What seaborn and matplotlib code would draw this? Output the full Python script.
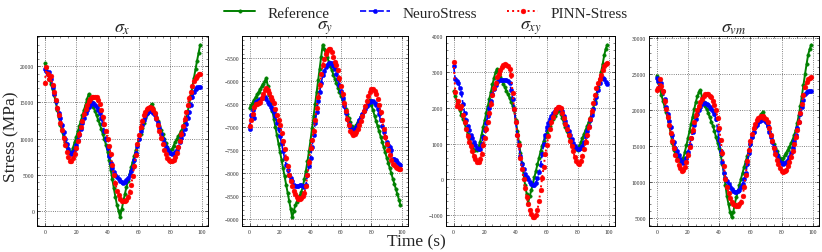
import numpy as np
import pandas as pd
import matplotlib
matplotlib.use("Agg")
import matplotlib.pyplot as plt
from matplotlib.ticker import AutoMinorLocator, MultipleLocator
import seaborn as sns

time_s = list(range(100))

# ---------------- sigma_x ----------------
sx_ref = [20400, 19700, 19000, 18300, 17500, 16800, 16000, 15000, 14000, 13000,
          11900, 11000, 10200, 9500, 8900, 8400, 8100, 8000, 8750, 9500,
          10200, 11000, 11700, 12500, 13200, 14000, 14700, 15500, 16200, 15600,
          15000, 14400, 13800, 13200, 12600, 12000, 11300, 10600, 9900, 9100,
          8200, 7000, 5700, 4400, 3100, 1900, 800, 0, -900, 200,
          1300, 2300, 3300, 4200, 5100, 6000, 6800, 7600, 8400, 9200,
          10000, 10700, 11400, 12100, 12800, 13400, 14000, 14400, 14800, 14200,
          13600, 13000, 12400, 11800, 11200, 10600, 10000, 9400, 8800, 8400,
          8100, 8500, 9000, 9500, 9900, 10300, 10700, 11100, 11600, 12200,
          12800, 13700, 14800, 16000, 17200, 18400, 19600, 20800, 21900, 23000]
sx_neuro = [19600, 19400, 19000, 19200, 18300, 17200, 16200, 15200, 14300, 13500,
            12800, 11900, 10900, 10000, 9200, 8500, 8000, 7900, 8100, 8500,
            9100, 9800, 10500, 11300, 12100, 12800, 13500, 14000, 14400, 14700,
            14900, 14900, 14700, 14400, 14000, 13500, 12800, 12000, 11000, 9900,
            8700, 7600, 6600, 5900, 5400, 5000, 4700, 4400, 4150, 4000,
            3900, 4000, 4250, 4600, 5000, 5500, 6100, 7000, 8000, 9000,
            10000, 11000, 11900, 12600, 13100, 13500, 13700, 13800, 13800, 13600,
            13200, 12700, 12100, 11400, 10700, 10000, 9400, 8900, 8500, 8200,
            8000, 7900, 7900, 8100, 8400, 8900, 9500, 10100, 10700, 11300,
            12000, 12800, 13700, 14700, 15700, 16500, 16900, 17100, 17200, 17100]
sx_pinn = [17700, 19900, 18900, 18300, 18700, 17400, 16500, 15400, 14200, 13200,
           12200, 11200, 10100, 9100, 8200, 7400, 6900, 6900, 7300, 7900,
           8700, 9600, 10600, 11600, 12500, 13400, 14100, 14700, 15200, 15500,
           15700, 15800, 15800, 15700, 15400, 14800, 14000, 13000, 12000, 11000,
           10000, 9000, 7800, 6300, 5000, 3800, 2800, 2200, 1700, 1400,
           1300, 1300, 1500, 1900, 2600, 3600, 4800, 6200, 7700, 9200,
           10500, 11600, 12500, 13200, 13700, 14100, 14300, 14400, 14300, 14000,
           13500, 12800, 11900, 11000, 10100, 9200, 8400, 7800, 7300, 7000,
           6900, 6850, 7000, 7400, 8000, 8800, 9700, 10700, 11700, 12700,
           13700, 14700, 15600, 16500, 17300, 17900, 18400, 18700, 18900, 19000]

# ---------------- sigma_y ----------------
sy_ref = [-6580, -6520, -6460, -6400, -6345, -6285, -6225, -6165, -6110, -6050,
          -5990, -5930, -6108, -6286, -6465, -6643, -6821, -6999, -7177, -7356,
          -7534, -7712, -7890, -8068, -8247, -8425, -8603, -8781, -8960, -8820,
          -8700, -8620, -8550, -8480, -8400, -8280, -8120, -7940, -7740, -7520,
          -7280, -7020, -6760, -6500, -6240, -5980, -5720, -5460, -5200, -5295,
          -5390, -5480, -5575, -5670, -5760, -5855, -5950, -6040, -6135, -6230,
          -6320, -6415, -6510, -6605, -6700, -6790, -6885, -6980, -7070, -7010,
          -6950, -6890, -6830, -6770, -6710, -6645, -6585, -6525, -6460, -6400,
          -6515, -6630, -6745, -6860, -6975, -7090, -7200, -7315, -7430, -7545,
          -7660, -7775, -7890, -8000, -8120, -8230, -8345, -8460, -8575, -8690]
sy_neuro = [-7030, -6730, -6620, -6800, -6450, -6420, -6400, -6390, -6370, -6350,
            -6330, -6380, -6440, -6500, -6550, -6600, -6660, -6750, -6900, -7030,
            -7180, -7350, -7520, -7670, -7810, -7930, -8030, -8110, -8170, -8260,
            -8280, -8280, -8270, -8260, -8260, -8270, -8290, -8250, -8030, -7850,
            -7670, -7420, -7160, -6900, -6660, -6430, -6230, -6040, -5870, -5770,
            -5690, -5640, -5600, -5600, -5610, -5660, -5740, -5840, -5950, -6070,
            -6200, -6370, -6530, -6680, -6820, -6920, -7000, -7050, -7070, -7040,
            -7000, -6930, -6850, -6780, -6710, -6650, -6600, -6530, -6470, -6440,
            -6420, -6430, -6460, -6520, -6600, -6720, -6850, -6980, -7100, -7220,
            -7320, -7380, -7430, -7500, -7680, -7700, -7720, -7760, -7790, -7830]
sy_pinn = [-6980, -6840, -6700, -6550, -6500, -6490, -6470, -6440, -6370, -6280,
           -6190, -6140, -6190, -6260, -6335, -6400, -6480, -6600, -6730, -6840,
           -6950, -7120, -7300, -7480, -7670, -7850, -8030, -8160, -8280, -8380,
           -8460, -8510, -8550, -8550, -8530, -8500, -8430, -8280, -8030, -7750,
           -7450, -7270, -7090, -6840, -6590, -6330, -6080, -5850, -5650, -5510,
           -5400, -5330, -5290, -5290, -5360, -5460, -5580, -5650, -5760, -5920,
           -6100, -6280, -6460, -6640, -6820, -6950, -7070, -7130, -7160, -7140,
           -7100, -7040, -6960, -6860, -6750, -6640, -6530, -6420, -6310, -6230,
           -6170, -6155, -6200, -6280, -6390, -6520, -6670, -6850, -7030, -7200,
           -7360, -7490, -7610, -7710, -7790, -7830, -7860, -7880, -7900, -7900]

# ---------------- sigma_xy ----------------
sxy_ref = [2460, 2330, 2200, 2070, 1930, 1800, 1680, 1560, 1420, 1280,
           1140, 1000, 870, 830, 820, 830, 900, 1050, 1250, 1450,
           1650, 1850, 2050, 2250, 2450, 2650, 2830, 3000, 3080, 2960,
           2870, 2770, 2670, 2570, 2470, 2370, 2270, 2170, 2050, 1930,
           1650, 1350, 1050, 750, 450, 150, -150, -400, -650, -470,
           -300, -120, 60, 240, 420, 600, 780, 930, 1060, 1190,
           1300, 1410, 1500, 1590, 1680, 1770, 1850, 1900, 1950, 1830,
           1700, 1580, 1460, 1340, 1220, 1100, 1000, 930, 880, 850,
           830, 930, 1040, 1160, 1270, 1380, 1490, 1600, 1720, 1850,
           2000, 2180, 2370, 2570, 2780, 3000, 3220, 3460, 3650, 3760]
sxy_neuro = [3150, 2800, 2750, 2700, 2550, 2400, 2100, 1850, 1650, 1500,
             1380, 1250, 1150, 1050, 950, 880, 840, 860, 980, 1180,
             1370, 1580, 1780, 2000, 2200, 2380, 2530, 2640, 2720, 2760,
             2780, 2780, 2780, 2780, 2770, 2750, 2700, 2500, 2250, 1960,
             1600, 1250, 950, 650, 430, 280, 150, 60, 0, -80,
             -140, -170, -160, -90, 30, 200, 400, 700, 1000, 1250,
             1450, 1580, 1680, 1760, 1840, 1900, 1960, 2000, 2000, 1970,
             1900, 1760, 1620, 1480, 1340, 1230, 1130, 1020, 940, 880,
             860, 850, 870, 930, 1050, 1200, 1360, 1500, 1650, 1800,
             1950, 2130, 2300, 2500, 2700, 2850, 2830, 2800, 2720, 2660]
sxy_pinn = [3280, 2450, 2050, 2200, 2000, 2050, 1800, 1600, 1400, 1200,
            1050, 920, 780, 660, 560, 490, 480, 560, 720, 950,
            1150, 1400, 1600, 1850, 2100, 2350, 2550, 2700, 2850, 2950,
            3050, 3130, 3190, 3210, 3200, 3170, 3080, 2900, 2400, 1950,
            1600, 1250, 950, 600, 300, 0, -250, -480, -680, -860,
            -980, -1060, -1060, -1000, -850, -600, -300, 50, 350, 700,
            950, 1200, 1400, 1600, 1750, 1880, 1960, 2020, 2030, 1980,
            1840, 1700, 1550, 1400, 1230, 1080, 930, 780, 620, 520,
            450, 430, 500, 650, 850, 1050, 1250, 1450, 1680, 1900,
            2130, 2350, 2550, 2700, 2800, 2920, 3050, 3150, 3220, 3260]

# ---------------- sigma_vm ----------------
svm_ref = [24800, 23900, 23000, 22100, 21300, 20500, 19700, 18900, 17800, 16700,
           15500, 14500, 13900, 13500, 13200, 13000, 12900, 13300, 14200, 15100,
           16100, 17100, 18100, 19100, 20100, 21100, 21900, 22500, 22800, 21800,
           21100, 20600, 20100, 19600, 19000, 18400, 17800, 17100, 16200, 15500,
           14700, 13700, 12500, 11300, 9600, 8000, 6900, 5800, 5100, 5800,
           7000, 7900, 8700, 9600, 10500, 11300, 12100, 12900, 13600, 14400,
           15300, 16200, 17000, 17600, 18100, 18600, 19000, 19400, 19800, 19100,
           18400, 17800, 17100, 16500, 15900, 15300, 14800, 14300, 13800, 13300,
           12900, 13300, 13700, 14100, 14500, 14900, 15400, 15900, 16500, 17200,
           18200, 19300, 20600, 22000, 23500, 25000, 26400, 27700, 28500, 29100]
svm_neuro = [24500, 24000, 23500, 23800, 22700, 21500, 20500, 19400, 18500, 17600,
             16600, 15600, 14800, 14300, 13700, 13200, 12800, 12700, 12900, 13400,
             14200, 15100, 16100, 17000, 17900, 18700, 19400, 20000, 20500, 20900,
             21000, 21000, 20900, 20700, 20500, 20200, 19900, 19400, 18700, 17300,
             15800, 14300, 12800, 11300, 10600, 10100, 9700, 9300, 9000, 8800,
             8650, 8650, 8750, 8950, 9250, 9800, 10400, 11200, 12500, 14000,
             15300, 16300, 17000, 17600, 18000, 18300, 18500, 18650, 18700, 18600,
             18300, 17800, 17000, 16300, 15600, 14900, 14300, 13700, 13200, 12800,
             12600, 12550, 12600, 12800, 13100, 13500, 14100, 14800, 15700, 16600,
             17500, 18400, 19400, 20500, 21400, 22200, 22500, 22700, 22700, 22600]
svm_pinn = [22850, 23050, 24300, 23300, 22600, 21300, 20200, 19100, 17900, 16800,
            15700, 14700, 13800, 13100, 12400, 11900, 11600, 11700, 12100, 12800,
            13800, 14900, 16100, 17200, 18300, 19300, 20000, 20600, 21100, 21600,
            21900, 22200, 22250, 22200, 22000, 21800, 21300, 20700, 20000, 18900,
            17500, 15800, 14100, 12200, 10500, 9300, 8500, 7800, 7300, 7000,
            6750, 6700, 6700, 6900, 7300, 8100, 9300, 11000, 12900, 14500,
            15700, 16700, 17500, 18100, 18600, 18900, 19100, 19150, 19150, 18950,
            18800, 18300, 17500, 16600, 15700, 14800, 13900, 13100, 12500, 12000,
            11600, 11450, 11500, 11700, 12200, 12800, 13500, 14300, 15300, 16300,
            17300, 18400, 19600, 20900, 22100, 23200, 23900, 24300, 24500, 24600]

panel_titles = [r"$\sigma_x$", r"$\sigma_y$", r"$\sigma_{xy}$", r"$\sigma_{vm}$"]
panel_data = [
    (sx_ref, sx_neuro, sx_pinn),
    (sy_ref, sy_neuro, sy_pinn),
    (sxy_ref, sxy_neuro, sxy_pinn),
    (svm_ref, svm_neuro, svm_pinn),
]
series_names = ["Reference", "NeuroStress", "PINN-Stress"]
x_ticks = [0, 20, 40, 60, 80, 100]
y_tick_steps = [5000, 500, 1000, 5000]

sns.set_style("ticks")
plt.rcParams["font.family"] = ["Liberation Serif", "DejaVu Serif"]
plt.rcParams["mathtext.fontset"] = "stix"
plt.rcParams["axes.unicode_minus"] = True

styles = [
    dict(color="green", linestyle="-", linewidth=1.4, marker="o", markersize=2.5),
    dict(color="blue", linestyle="--", linewidth=1.2, marker="o", markersize=3.1),
    dict(color="red", linestyle=":", linewidth=1.4, marker="o", markersize=3.5),
]

fig = plt.figure(figsize=(8.22, 2.53), dpi=100)
rects = [
    [37 / 822, 26 / 253, 171 / 822, 190 / 253],
    [242 / 822, 26 / 253, 166 / 822, 190 / 253],
    [446 / 822, 26 / 253, 169 / 822, 190 / 253],
    [649 / 822, 26 / 253, 170 / 822, 190 / 253],
]

handles = None
for i, (rect, title, series) in enumerate(zip(rects, panel_titles, panel_data)):
    ax = fig.add_axes(rect)
    for name, vals, st in zip(series_names, series, styles):
        df = pd.DataFrame({"t": time_s, "v": vals})
        sns.lineplot(data=df, x="t", y="v", ax=ax, label=name,
                     markeredgecolor=st["color"], markeredgewidth=0.3, **st)
    ax.set_title(title, fontsize=13, pad=2)
    ax.set_xlabel("")
    ax.set_ylabel("")
    ax.set_xticks(x_ticks)
    ax.yaxis.set_major_locator(MultipleLocator(y_tick_steps[i]))
    ax.xaxis.set_minor_locator(AutoMinorLocator(4))
    ax.yaxis.set_minor_locator(AutoMinorLocator(5))
    ax.tick_params(which="both", direction="in", top=True, right=True,
                   labelsize=4.0, pad=2)
    ax.tick_params(which="major", length=2.5, width=0.5)
    ax.tick_params(which="minor", length=1.3, width=0.4)
    ax.grid(True, which="major", linestyle=":", color="0.35", linewidth=0.6)
    for sp in ax.spines.values():
        sp.set_linewidth(0.7)
        sp.set_color("black")
    if handles is None:
        handles, labels = ax.get_legend_handles_labels()
    ax.get_legend().remove()

fig.legend(handles, labels, loc="center", bbox_to_anchor=(0.518, 0.945),
           ncol=3, frameon=False, fontsize=11, columnspacing=2.0,
           handlelength=2.0, handletextpad=0.8)
fig.text(0.014, 0.46, "Stress (MPa)", rotation=90, ha="center", va="center",
         fontsize=12.5)
fig.text(0.506, 0.042, "Time (s)", ha="center", va="center", fontsize=12.5)

fig.savefig("out.png", dpi=100)
